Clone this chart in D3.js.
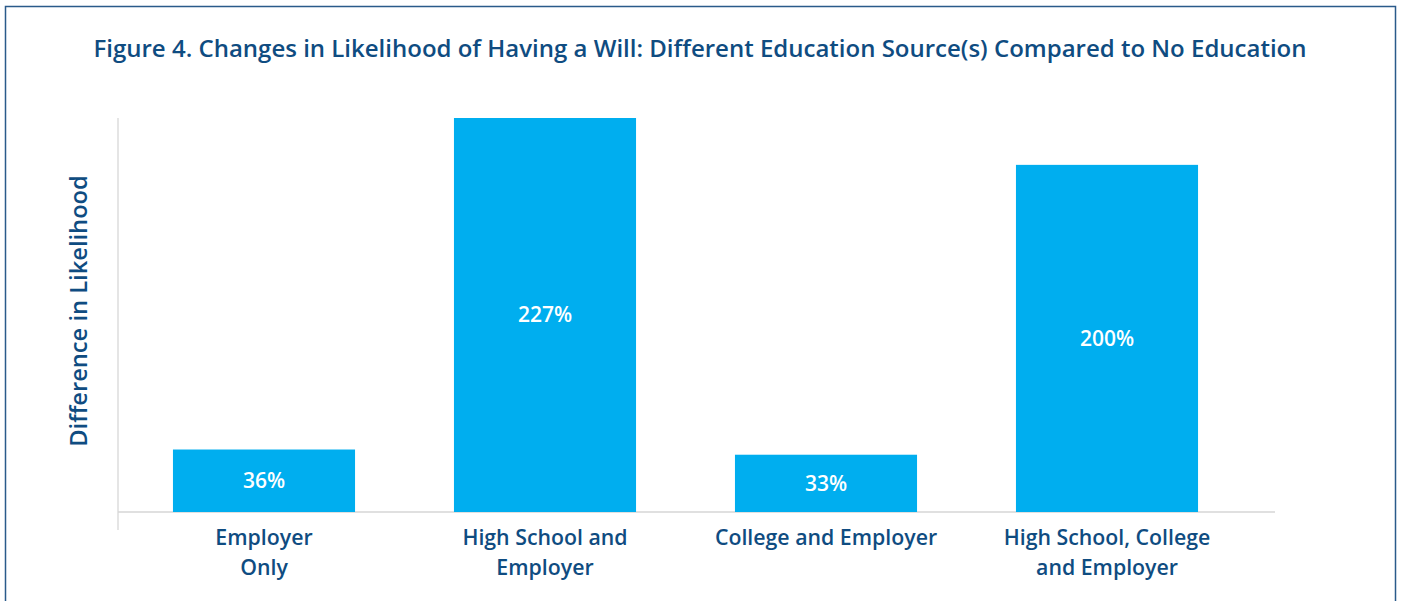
<!DOCTYPE html>
<html>
<head>
<meta charset="utf-8">
<script src="https://cdn.jsdelivr.net/npm/d3@7"></script>
<style>
  body { margin: 0; background: #fff; }
  svg { font-family: "Open Sans", "Noto Sans", sans-serif; }
</style>
</head>
<body>
<script>
// chart data
const categories = ["Employer Only", "High School and Employer", "College and Employer", "High School, College and Employer"];
const categoryLines = [["Employer", "Only"], ["High School and", "Employer"], ["College and Employer"], ["High School, College", "and Employer"]];
const values = [36, 227, 33, 200];
const valueLabels = ["36%", "227%", "33%", "200%"];

const w = 1401, h = 601;
const navy = "#0f4c81";
const barColor = "#00aeef";

const svg = d3.select("body").append("svg")
    .attr("width", w)
    .attr("height", h);

// frame round the figure
svg.append("rect")
    .attr("x", 5.5).attr("y", 6.5)
    .attr("width", 1390).attr("height", 620)
    .attr("fill", "none")
    .attr("stroke", "#2a5a8a")
    .attr("stroke-width", 1.5);

// title
svg.append("text")
    .attr("x", 700).attr("y", 57)
    .attr("text-anchor", "middle")
    .attr("fill", navy)
    .attr("font-size", 24)
    .attr("font-weight", 600)
    .text("Figure 4. Changes in Likelihood of Having a Will: Different Education Source(s) Compared to No Education");

// scales
const x = d3.scaleBand()
    .domain(categories)
    .range([123.5, 1247.5])
    .paddingInner(0.352)
    .paddingOuter(0.176);

const y = d3.scaleLinear()
    .domain([0, 227])
    .range([512, 118]);

// axis lines
svg.append("line")
    .attr("x1", 118).attr("x2", 118)
    .attr("y1", 118).attr("y2", 530)
    .attr("stroke", "#dcdcdc").attr("stroke-width", 1.5);
svg.append("line")
    .attr("x1", 118).attr("x2", 1275)
    .attr("y1", y(0)).attr("y2", y(0))
    .attr("stroke", "#d6d6d6").attr("stroke-width", 1.5);

// bars
svg.selectAll("rect.bar")
    .data(values)
    .enter()
    .append("rect")
    .attr("class", "bar")
    .attr("x", (d, i) => x(categories[i]))
    .attr("y", d => y(d))
    .attr("width", x.bandwidth())
    .attr("height", d => y(0) - y(d))
    .attr("fill", barColor);

// value labels in the middle of each bar
svg.selectAll("text.val")
    .data(values)
    .enter()
    .append("text")
    .attr("class", "val")
    .attr("x", (d, i) => x(categories[i]) + x.bandwidth() / 2)
    .attr("y", d => (y(d) + y(0)) / 2)
    .attr("dy", "0.35em")
    .attr("text-anchor", "middle")
    .attr("fill", "#fff")
    .attr("font-size", 21)
    .attr("font-weight", 600)
    .text((d, i) => valueLabels[i]);

// category labels
const cats = svg.selectAll("text.cat")
    .data(categoryLines)
    .enter()
    .append("text")
    .attr("class", "cat")
    .attr("text-anchor", "middle")
    .attr("fill", navy)
    .attr("font-size", 21.3)
    .attr("font-weight", 600);
cats.selectAll("tspan")
    .data((d, i) => d.map(t => ({ t: t, i: i })))
    .enter()
    .append("tspan")
    .attr("x", d => x(categories[d.i]) + x.bandwidth() / 2)
    .attr("y", (d, j) => 545 + j * 30)
    .text(d => d.t);

// y axis title
svg.append("text")
    .attr("transform", "translate(87,311) rotate(-90)")
    .attr("text-anchor", "middle")
    .attr("fill", navy)
    .attr("font-size", 23.7)
    .attr("font-weight", 600)
    .text("Difference in Likelihood");
</script>
</body>
</html>
